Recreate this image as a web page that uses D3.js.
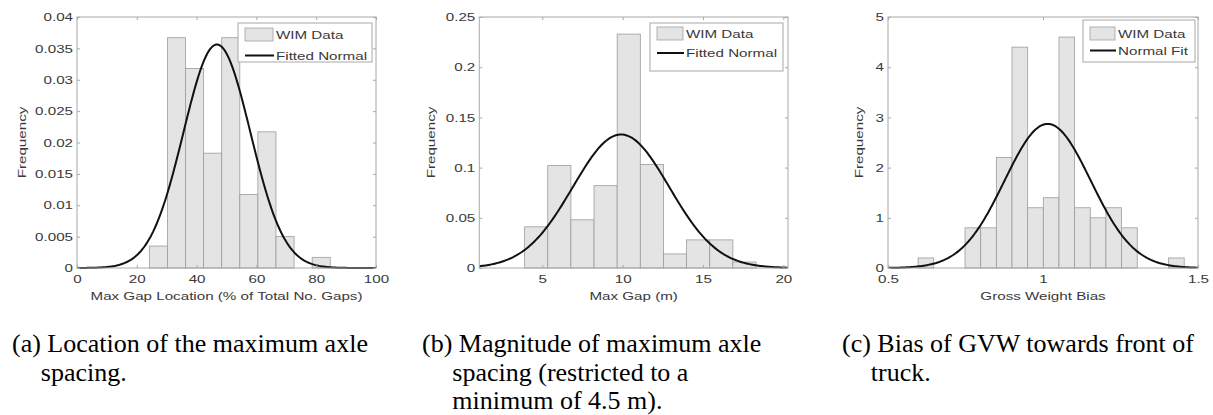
<!DOCTYPE html>
<html>
<head>
<meta charset="utf-8">
<script src="https://cdn.jsdelivr.net/npm/d3@7"></script>
<style>
  body { margin: 0; background: #fff; }
  svg { display: block; }
</style>
</head>
<body>
<svg id="fig"></svg>
<script>
// (a) max gap location
const locEdges = [24.2, 30.25, 36.3, 42.35, 48.4, 54.45, 60.5, 66.55, 72.6, 78.65, 84.7];
const locFreq  = [0.0035, 0.0367, 0.0318, 0.0183, 0.0367, 0.0117, 0.0217, 0.005, 0, 0.0017];
const locFit   = [46.8, 11.2];   // mean, sd
const locXTicks = [0, 20, 40, 60, 80, 100];
const locYTicks = [0, 0.005, 0.01, 0.015, 0.02, 0.025, 0.03, 0.035, 0.04];

// (b) max gap magnitude
const gapEdges = [3.9, 5.34, 6.78, 8.22, 9.66, 11.1, 12.54, 13.98, 15.42, 16.86, 18.3];
const gapFreq  = [0.041, 0.102, 0.048, 0.082, 0.233, 0.103, 0.014, 0.028, 0.028, 0.006];
const gapFit   = [9.9, 3.0];
const gapXTicks = [5, 10, 15, 20];
const gapYTicks = [0, 0.05, 0.1, 0.15, 0.2, 0.25];

// (c) gross weight bias
const gvwEdges = [0.597, 0.6475, 0.698, 0.7485, 0.799, 0.8495, 0.9, 0.9505, 1.001, 1.0515,
                  1.102, 1.1525, 1.203, 1.2535, 1.304, 1.3545, 1.405, 1.4555];
const gvwFreq  = [0.2, 0, 0, 0.8, 0.8, 2.2, 4.4, 1.2, 1.4, 4.6, 1.2, 1.0, 1.2, 0.8, 0, 0, 0.2];
const gvwFit   = [1.015, 0.139];
const gvwXTicks = [0.5, 1, 1.5];
const gvwYTicks = [0, 1, 2, 3, 4, 5];

const W = 1213, H = 415;
const SX = 1.32;          // the figure text is drawn wide
const FS = 11.5;
const plotTop = 17, plotBottom = 268;

const svg = d3.select('#fig').attr('width', W).attr('height', H);

const panels = [
  { left: 77, right: 376, xd: [0, 100], yd: [0, 0.04], edges: locEdges, freq: locFreq, fit: locFit,
    xt: locXTicks, yt: locYTicks, xLabel: 'Max Gap Location (% of Total No. Gaps)', yLabX: 25.5,
    leg: { box: [238, 23, 134, 39], patch: [245, 28, 28, 13], lineY: 55.5, names: ['WIM Data', 'Fitted Normal'] } },
  { left: 479.3, right: 788, xd: [1.08, 20.29], yd: [0, 0.25], edges: gapEdges, freq: gapFreq, fit: gapFit,
    xt: gapXTicks, yt: gapYTicks, xLabel: 'Max Gap (m)', yLabX: 435,
    leg: { box: [650, 23, 133, 48], patch: [657, 27, 26, 13], lineY: 53, names: ['WIM Data', 'Fitted Normal'] } },
  { left: 888, right: 1198, xd: [0.5, 1.5], yd: [0, 5], edges: gvwEdges, freq: gvwFreq, fit: gvwFit,
    xt: gvwXTicks, yt: gvwYTicks, xLabel: 'Gross Weight Bias', yLabX: 863,
    leg: { box: [1083, 20, 112, 42], patch: [1090, 27, 25, 13], lineY: 50.5, names: ['WIM Data', 'Normal Fit'] } }
];

const boxCol = '#a8a8a8', txtCol = '#3a3a3a';
const fmt = d => String(+d.toFixed(4));   // matlab-ish: 0.04, 0.2, 1.5, 5

function wideText(g, x, y, s, anchor, rot) {
  return g.append('text')
    .attr('transform', `translate(${x},${y})` + (rot ? ` rotate(${rot})` : '') + ` scale(${SX},1)`)
    .attr('text-anchor', anchor || 'start')
    .attr('font-family', 'Liberation Sans, Arial, sans-serif')
    .attr('font-size', FS)
    .attr('fill', txtCol)
    .text(s);
}

panels.forEach(p => {
  const x = d3.scaleLinear().domain(p.xd).range([p.left, p.right]);
  const y = d3.scaleLinear().domain(p.yd).range([plotBottom, plotTop]);
  const g = svg.append('g');

  // bars
  const bins = p.freq.map((f, i) => ({ x0: p.edges[i], x1: p.edges[i + 1], f })).filter(d => d.f > 0);
  g.selectAll('rect.bar').data(bins).join('rect')
    .attr('class', 'bar')
    .attr('x', d => x(d.x0))
    .attr('y', d => y(d.f))
    .attr('width', d => x(d.x1) - x(d.x0))
    .attr('height', d => y(0) - y(d.f))
    .attr('fill', '#e4e4e4')
    .attr('stroke', '#9c9c9c')
    .attr('stroke-width', 0.8);

  // fitted normal
  const [mu, sd] = p.fit;
  const xs = d3.range(201).map(i => p.xd[0] + (p.xd[1] - p.xd[0]) * i / 200);
  const pts = xs.map(v => [v, Math.exp(-0.5 * ((v - mu) / sd) ** 2) / (sd * Math.sqrt(2 * Math.PI))]);
  g.append('path')
    .attr('d', d3.line().x(d => x(d[0])).y(d => y(d[1]))(pts))
    .attr('fill', 'none')
    .attr('stroke', '#111')
    .attr('stroke-width', 2);

  // box + inner ticks on all sides
  g.append('rect')
    .attr('x', p.left).attr('y', plotTop)
    .attr('width', p.right - p.left).attr('height', plotBottom - plotTop)
    .attr('fill', 'none').attr('stroke', boxCol).attr('stroke-width', 1);

  const ax = [
    [d3.axisBottom(x).tickValues(p.xt).tickFormat(fmt), `translate(0,${plotBottom})`],
    [d3.axisTop(x).tickValues(p.xt).tickFormat(''), `translate(0,${plotTop})`],
    [d3.axisLeft(y).tickValues(p.yt).tickFormat(fmt), `translate(${p.left},0)`],
    [d3.axisRight(y).tickValues(p.yt).tickFormat(''), `translate(${p.right},0)`]
  ];
  ax.forEach(([a, tr], k) => {
    const ag = g.append('g').attr('transform', tr)
      .call(a.tickSizeInner(-3).tickSizeOuter(0).tickPadding(k === 0 ? 7 : 4));
    ag.select('.domain').remove();
    ag.selectAll('line').attr('stroke', boxCol);
    ag.selectAll('text')
      .attr('font-family', 'Liberation Sans, Arial, sans-serif')
      .attr('font-size', FS)
      .attr('fill', txtCol);
    if (k === 2) ag.selectAll('text').attr('x', -4 / SX).attr('transform', `scale(${SX},1)`);
    if (k === 0) ag.selectAll('text').attr('transform', `scale(${SX},1)`);
  });

  // axis labels
  wideText(g, (p.left + p.right) / 2, 300, p.xLabel, 'middle');
  wideText(g, p.yLabX, (plotTop + plotBottom) / 2, 'Frequency', 'middle', -90);

  // legend
  const L = p.leg;
  g.append('rect').attr('x', L.box[0]).attr('y', L.box[1]).attr('width', L.box[2]).attr('height', L.box[3])
    .attr('fill', '#fff').attr('stroke', boxCol);
  g.append('rect').attr('x', L.patch[0]).attr('y', L.patch[1]).attr('width', L.patch[2]).attr('height', L.patch[3])
    .attr('fill', '#e4e4e4').attr('stroke', '#a0a0a0').attr('stroke-width', 0.8);
  g.append('line')
    .attr('x1', L.patch[0]).attr('x2', L.patch[0] + L.patch[2] + 1)
    .attr('y1', L.lineY).attr('y2', L.lineY)
    .attr('stroke', '#111').attr('stroke-width', 2);
  const tx = L.patch[0] + L.patch[2] + 3;
  wideText(g, tx, L.patch[1] + L.patch[3] / 2 + 4, L.names[0], 'start');
  wideText(g, tx, L.lineY + 4, L.names[1], 'start');
});

// captions
const captions = [
  { x: 12, lines: ['(a) Location of the maximum axle', 'spacing.'] },
  { x: 422, lines: ['(b) Magnitude of maximum axle', 'spacing (restricted to a', 'minimum of 4.5 m).'] },
  { x: 842, lines: ['(c) Bias of GVW towards front of', 'truck.'] }
];
captions.forEach(c => {
  const t = svg.append('text')
    .attr('font-family', 'Liberation Serif, Times New Roman, serif')
    .attr('font-size', 26)
    .attr('fill', '#000');
  const tmp = svg.append('text').attr('font-family', 'Liberation Serif, Times New Roman, serif')
    .attr('font-size', 26).text(c.lines[0].slice(0, 4));
  const indent = tmp.node().getComputedTextLength();
  tmp.remove();
  c.lines.forEach((s, i) => {
    t.append('tspan').attr('x', c.x + (i ? indent : 0)).attr('y', 352 + i * 28.5).text(s);
  });
});
</script>
</body>
</html>
